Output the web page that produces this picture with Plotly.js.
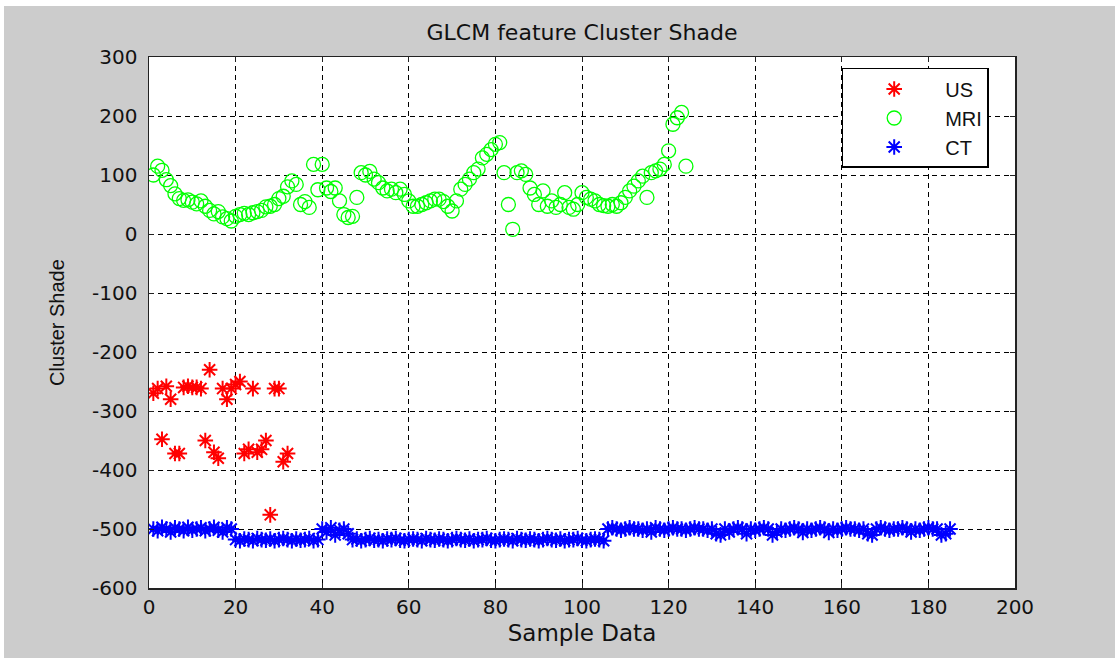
<!DOCTYPE html>
<html>
<head>
<meta charset="utf-8">
<script src="https://cdn.plot.ly/plotly-3.0.1.min.js"></script>
<style>
  html, body { margin:0; padding:0; background:#ffffff; }
  #chart { position:absolute; left:4px; top:6px; width:1111px; height:652px; }
</style>
</head>
<body>
<div id="chart"></div>
<script>
// ---- data ----
const usValues = [-270,-262,-348,-258,-280,-372,-372,-260,-258,-260,-260,-262,-350,-230,-370,-380,
  -262,-280,-262,-255,-250,-372,-365,-262,-370,-365,-350,-476,-262,-262,-386,-372];

const mriValues = [100,115,108,92,82,68,60,57,58,54,51,56,47,40,34,38,29,26,22,30,
  33,35,33,36,38,40,46,47,50,60,64,80,90,84,50,55,45,118,75,118,
  78,72,78,56,33,28,30,62,104,100,106,93,87,78,73,76,70,76,67,56,
  47,47,50,53,56,59,59,55,47,39,56,76,84,93,104,110,129,135,143,152,
  155,104,50,8,104,107,101,78,67,50,73,47,56,45,50,70,45,42,50,70,
  62,59,56,50,48,47,50,47,53,62,73,81,90,98,62,104,107,110,118,141,
  186,197,206,115];

const ctValues = [-500,-503,-497,-500,-505,-498,-500,-503,-497,-502,-500,-498,-503,-500,-497,-502,-505,-498,-500,
  -518,-520,-517,-518,-520,-516,-518,-519,-517,-520,-518,-516,-518,-520,-517,-519,-518,-516,-520,-518,
  -500,-505,-498,-510,-502,-500,-508,
  -518,-517,-520,-518,-516,-519,-518,-520,-517,-518,-516,-519,-520,-518,-517,-518,-520,-516,-518,-519,
  -517,-518,-520,-518,-516,-518,-519,-517,-520,-518,-518,-516,-519,-520,-518,-517,-518,-520,-516,-518,
  -519,-517,-518,-520,-518,-516,-518,-519,-517,-520,-518,-518,-516,-519,-520,-518,-517,-518,-520,
  -500,-498,-500,-502,-500,-498,-500,-500,-502,-500,-505,-498,-500,-502,-500,-498,-500,-500,-502,-500,
  -498,-500,-500,-502,-500,-508,-510,-500,-505,-500,-498,-500,-508,-500,-502,-500,-498,-500,-510,-505,
  -500,-502,-500,-498,-500,-506,-500,-502,-500,-498,-500,-506,-500,-502,-500,-498,-500,-500,-502,-500,
  -508,-510,-500,-498,-500,-502,-500,-500,-498,-500,-505,-500,-502,-500,-498,-500,-500,-510,-508,-500];

const xTickVals = [0,20,40,60,80,100,120,140,160,180,200];
const xTickLabels = ['0','20','40','60','80','100','120','140','160','180','200'];
const yTickVals = [300,200,100,0,-100,-200,-300,-400,-500,-600];
const yTickLabels = ['300','200','100','0','-100','-200','-300','-400','-500','-600'];

function idx(arr){ return arr.map((_, i) => i + 1); }

const tickFont = {family:'DejaVu Sans', size:20, color:'#111'};

const traces = [
  {x: idx(usValues), y: usValues, name:'US', type:'scatter', mode:'markers',
   marker:{symbol:'asterisk-open', size:13, color:'#ff0000', line:{width:2, color:'#ff0000'}}},
  {x: idx(mriValues), y: mriValues, name:'MRI', type:'scatter', mode:'markers',
   marker:{symbol:'circle-open', size:14, color:'#00ff00', line:{width:1.3, color:'#00ff00'}}},
  {x: idx(ctValues), y: ctValues, name:'CT', type:'scatter', mode:'markers',
   marker:{symbol:'asterisk-open', size:13, color:'#0000ff', line:{width:2, color:'#0000ff'}}}
];

const layout = {
  width:1111, height:652,
  paper_bgcolor:'#cccccc', plot_bgcolor:'#ffffff',
  margin:{l:144.5, r:99.5, t:50.7, b:70},
  showlegend:true,
  title:{text:'GLCM feature Cluster Shade', font:{family:'DejaVu Sans', size:22, color:'#111'},
         x:0.5, xref:'paper', y:1-26/652, yref:'container', yanchor:'middle'},
  xaxis:{range:[0,200], tickvals:xTickVals, ticktext:xTickLabels, tickfont:tickFont,
         showgrid:true, gridcolor:'#000', griddash:'5px,4px', gridwidth:1,
         showline:true, linecolor:'#222', linewidth:1.5, mirror:'ticks',
         ticks:'inside', ticklen:5, tickcolor:'#222', zeroline:false,
         title:{text:'Sample Data', font:{family:'DejaVu Sans', size:23, color:'#111'}, standoff:7}},
  yaxis:{range:[-600,300], tickvals:yTickVals, ticktext:yTickLabels, tickfont:tickFont,
         showgrid:true, gridcolor:'#000', griddash:'5px,4px', gridwidth:1,
         showline:true, linecolor:'#222', linewidth:1.5, mirror:'ticks',
         ticks:'inside', ticklen:5, tickcolor:'#222', zeroline:false, ticklabelstandoff:6,
         title:{text:'Cluster Shade', font:{family:'Liberation Sans', size:20, color:'#111'}, standoff:22}},
  legend:{x:(838-144.5)/867, y:1-(61.7-50.7)/531.3, xanchor:'left', yanchor:'top',
          bgcolor:'#ffffff', bordercolor:'#000', borderwidth:1.5,
          font:{family:'Liberation Sans', size:20, color:'#111'}, itemwidth:92, tracegroupgap:0}
};

Plotly.newPlot('chart', traces, layout, {displayModeBar:false, staticPlot:true});
</script>
</body>
</html>
